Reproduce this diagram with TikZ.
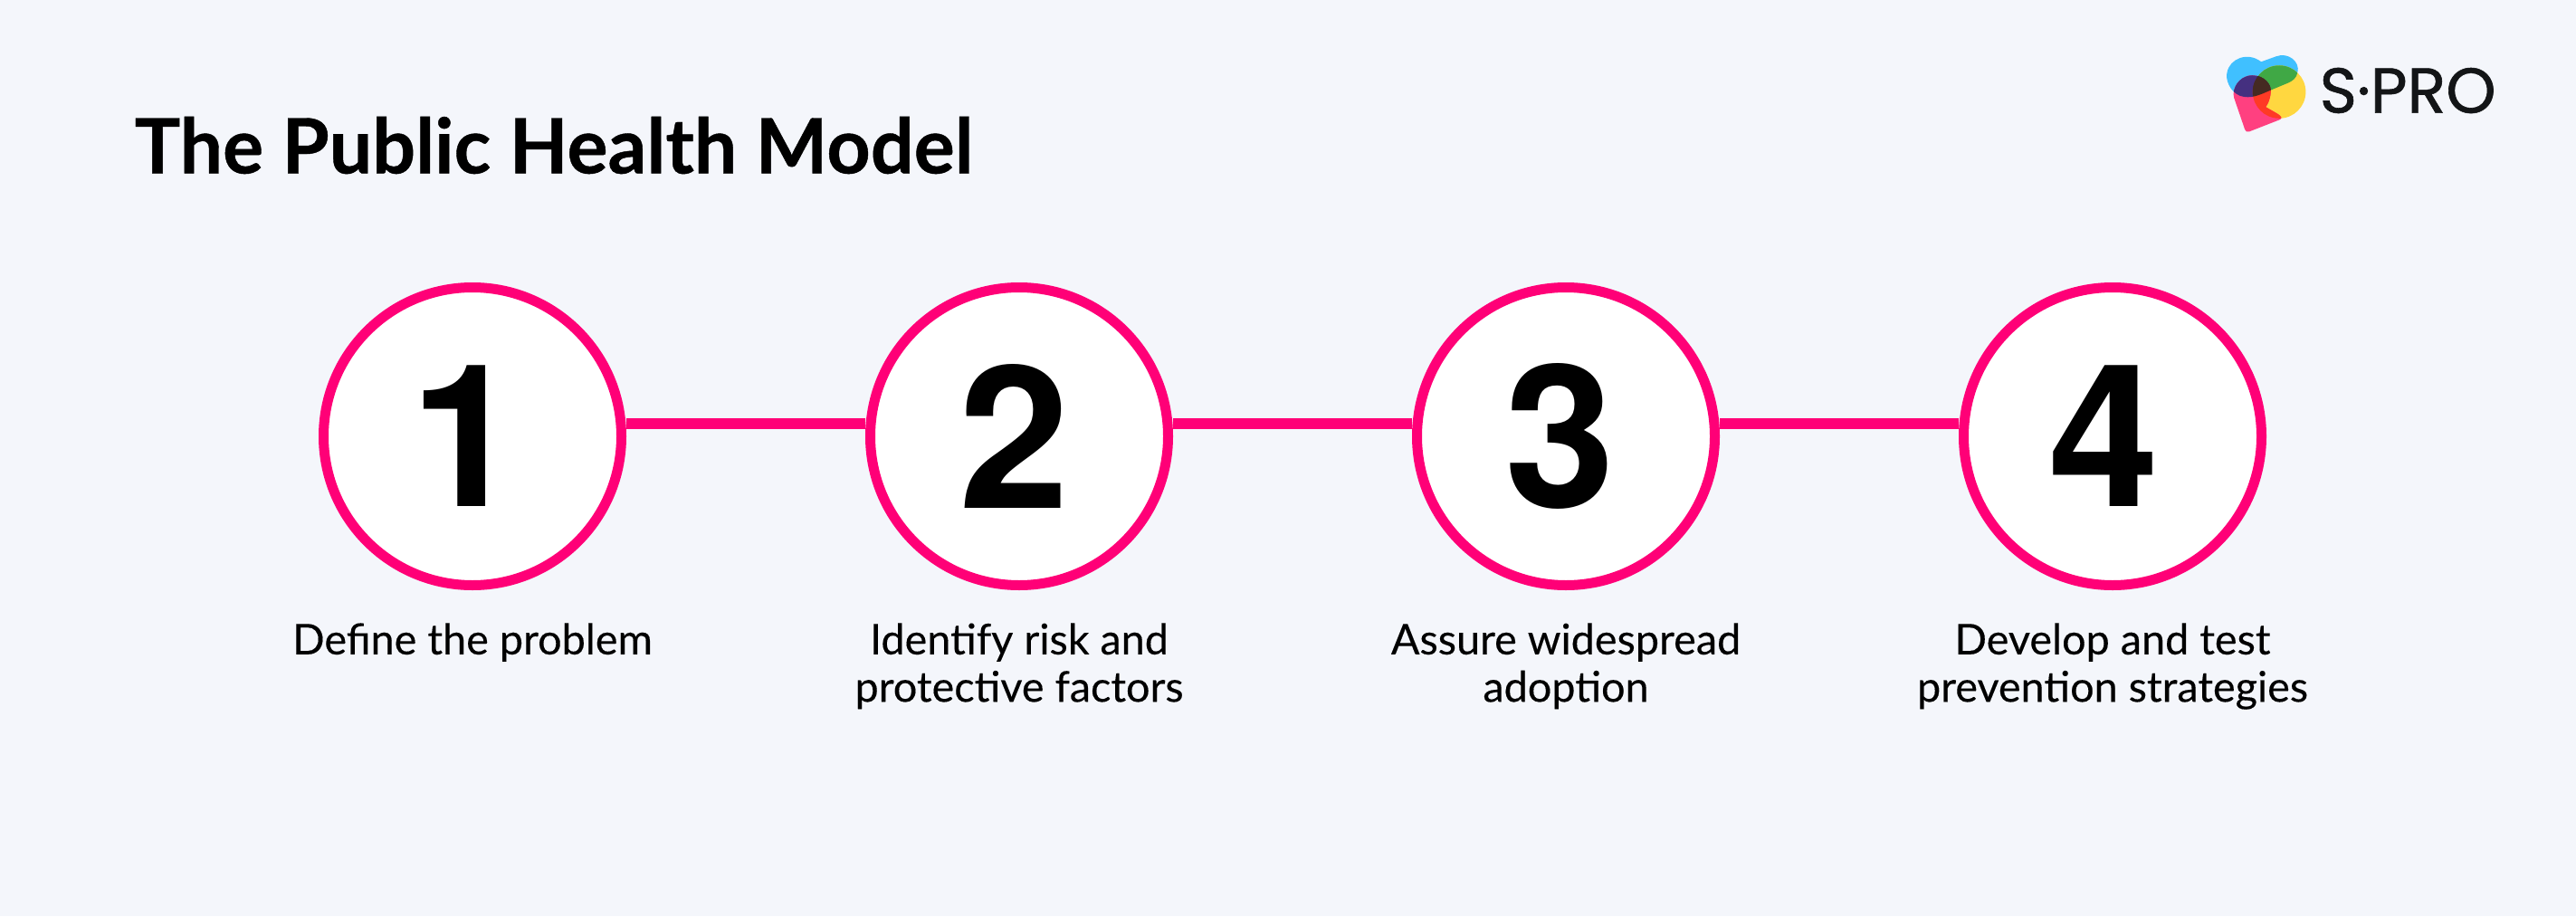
\documentclass[tikz,border=0pt]{standalone}
\usepackage{fontspec}
\setmainfont{Lato}
\newfontfamily\labelfont[FakeBold=0.25]{Lato}
\newfontfamily\titlefont[BoldFeatures={FakeBold=0.5}]{Lato}
\newfontfamily\figfont{TeX Gyre Heros}
\newfontfamily\brandfont[FakeBold=0.9]{Poppins}
\usetikzlibrary{calc}
\definecolor{pagebg}{HTML}{F4F6FB}
\definecolor{linkpink}{HTML}{FF0077}
\definecolor{logoblue}{HTML}{40C0FF}
\definecolor{logoyellow}{HTML}{FFD740}
\definecolor{logopink}{HTML}{FF4080}
\definecolor{logopurple}{HTML}{453080}
\definecolor{logogreen}{HTML}{40A845}
\definecolor{logobrown}{HTML}{452A22}
\definecolor{logored}{HTML}{FF3A25}
\definecolor{logotext}{HTML}{131517}
\def\blueblob{(295,115) -- (345,97) .. controls (385,82) and (425,115) .. (416,150) .. controls (412,170) and (400,178) .. (385,185) -- (325,210) .. controls (290,225) and (260,240) .. (225,228) .. controls (190,215) and (175,170) .. (182,150) .. controls (190,105) and (250,80) .. (295,115) -- cycle}
\def\pinkblob{(203,222) .. controls (205,185) and (235,160) .. (265,160) .. controls (305,160) and (330,190) .. (327,215) .. controls (325,240) and (318,255) .. (310,265) -- (350,288) .. controls (365,298) and (365,304) .. (355,308) -- (255,347) .. controls (248,350) and (243,345) .. (241,340) -- (205,235) -- cycle}
\def\yellowblob{(355,215) circle (88)}
\tikzset{
	step circle/.style={circle, draw=linkpink, fill=white, line width=0.11cm, minimum size=3.29cm, inner sep=0pt, font=\figfont\bfseries\fontsize{62.5}{62.5}\selectfont},
	step label/.style={align=center, font=\labelfont\fontsize{13.3}{14.9}\selectfont, anchor=north},
	link/.style={draw=linkpink, line width=0.12cm}
}
\begin{document}
\begin{tikzpicture}
	%%%%% START %%%%%
	\useasboundingbox (0, 0) rectangle (28.46, 10.12);
	\fill[pagebg] (0, 0) rectangle (28.46, 10.12);

	\node[anchor=base west, inner sep=0pt, font=\titlefont\bfseries\fontsize{24}{24}\selectfont] (title) at (1.48, 8.205) {The Public Health Model};

	\node[step circle] (one) at (5.22, 5.30) {1\kern0.14cm};
	\node[step circle] (two) at (11.26, 5.30) {2\kern0.1cm};
	\node[step circle] (three) at (17.30, 5.30) {3\kern0.12cm};
	\node[step circle] (four) at (23.34, 5.30) {4\kern0.18cm};

	\draw[link] ([yshift=0.14cm]one.east) -- ([yshift=0.14cm]two.west);
	\draw[link] ([yshift=0.14cm]two.east) -- ([yshift=0.14cm]three.west);
	\draw[link] ([yshift=0.14cm]three.east) -- ([yshift=0.14cm]four.west);

	\node[step label] (onetext) at (5.22, 3.36) {Define the problem};
	\node[step label] (twotext) at (11.26, 3.36) {Identify risk and\\protective factors};
	\node[step label] (threetext) at (17.30, 3.36) {Assure widespread\\adoption};
	\node[step label] (fourtext) at (23.34, 3.36) {Develop and test\\prevention strategies};

	% logo
	\begin{scope}[shift={(24, 9.82)}, xscale=0.003333, yscale=-0.003333]
		\fill[logoblue] \blueblob;
		\fill[logoyellow] \yellowblob;
		\fill[logopink] \pinkblob;
		\begin{scope}
			\clip \blueblob;
			\fill[logogreen] \yellowblob;
			\fill[logopurple] \pinkblob;
			\clip \yellowblob;
			\fill[logobrown] \pinkblob;
		\end{scope}
		\begin{scope}
			\clip \pinkblob;
			\clip \yellowblob;
			\fill[logored] (150,200) -- (150,400) -- (450,400) -- (450,200) -- cycle;
			\clip \blueblob;
			\fill[logobrown] (150,100) rectangle (450,400);
		\end{scope}
	\end{scope}
	\node[anchor=west, text=logotext, inner sep=0pt, font=\brandfont\fontsize{20}{20}\selectfont] (logotext) at (25.62, 9.12) {S·PRO};

	%%%%% END %%%%%
\end{tikzpicture}
\end{document}
